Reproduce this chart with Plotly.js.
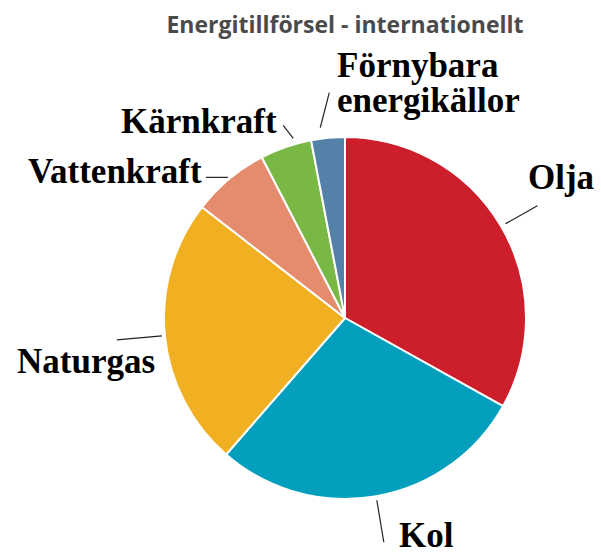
<!DOCTYPE html>
<html>
<head>
<meta charset="utf-8">
<script src="https://cdn.plot.ly/plotly-3.0.1.min.js"></script>
<style>html,body{margin:0;padding:0;background:#fff;}#chart{width:601px;height:557px;}</style>
</head>
<body>
<div id="chart"></div>
<script>
// Data
const categories = ["Olja", "Kol", "Naturgas", "Vattenkraft", "Kärnkraft", "Förnybara<br>energikällor"];
const shares = [33.1, 28.3, 24.1, 6.9, 4.6, 3.0];
const colors = ["#CD1F2B", "#039FBD", "#F0B021", "#E68C6E", "#7AB845", "#5381A8"];

// Layout geometry (pixels)
const W = 601, H = 557;
const CX = 345, CY = 318, R = 181;
const px = x => x / W;
const py = y => 1 - y / H;

// Label / leader config (layout only). pos = anchor of first line, dy = line spacing
const labelCfg = [
  {nudge: 0,  r0: 186, d: [32, -18], pos: [526, 177], xa: "left",  ya: "middle"},
  {nudge: 0,  r0: 185, d: [7, 42],   pos: [397, 557], xa: "left",  ya: "bottom"},
  {nudge: 0,  r0: 184, d: [-45, 4],  pos: [157, 361], xa: "right", ya: "middle"},
  {nudge: 0,  r0: 183, d: [-22, 0],  pos: [204, 171], xa: "right", ya: "middle"},
  {nudge: 3,  r0: 187, d: [-10, -13],pos: [279, 121], xa: "right", ya: "middle"},
  {nudge: -2, r0: 192, d: [9, -35],  pos: [335, 65],  xa: "left",  ya: "middle", dy: 36}
];

const total = shares.reduce((a, b) => a + b, 0);
let cum = 0;
const shapes = [], annotations = [];
shares.forEach((v, i) => {
  const mid = (cum + v / 2) / total * 360;
  cum += v;
  const c = labelCfg[i];
  const a = (mid + c.nudge) * Math.PI / 180;
  const sx = CX + c.r0 * Math.sin(a), sy = CY - c.r0 * Math.cos(a);
  const ex = sx + c.d[0], ey = sy + c.d[1];
  shapes.push({type: "line", xref: "paper", yref: "paper",
    x0: px(sx), y0: py(sy), x1: px(ex), y1: py(ey),
    line: {color: "#222", width: 1.2}});
  categories[i].split("<br>").forEach((line, k) => {
    annotations.push({xref: "paper", yref: "paper",
      x: px(c.pos[0]), y: py(c.pos[1] + k * (c.dy || 0)),
      xanchor: c.xa, yanchor: c.ya, align: "left", showarrow: false,
      text: "<b>" + line + "</b>",
      font: {family: "Liberation Serif, Times New Roman, serif", size: 35, color: "#000"}});
  });
});

const trace = {
  type: "pie",
  labels: categories,
  values: shares,
  sort: false,
  direction: "clockwise",
  rotation: 0,
  textinfo: "none",
  hoverinfo: "label+percent",
  marker: {colors: colors, line: {color: "#fff", width: 2}},
  domain: {x: [px(CX - R), px(CX + R)], y: [py(CY + R), py(CY - R)]},
  showlegend: false
};

const layout = {
  width: W, height: H,
  margin: {l: 0, r: 0, t: 0, b: 0},
  paper_bgcolor: "#fff",
  title: {text: "<b>Energitillförsel - internationellt</b>", x: px(345), xanchor: "center",
    y: py(25), yanchor: "middle",
    font: {family: "Open Sans, sans-serif", size: 23, color: "#4a4a4a"}},
  shapes: shapes,
  annotations: annotations
};

Plotly.newPlot("chart", [trace], layout, {displayModeBar: false, staticPlot: true});
</script>
</body>
</html>
